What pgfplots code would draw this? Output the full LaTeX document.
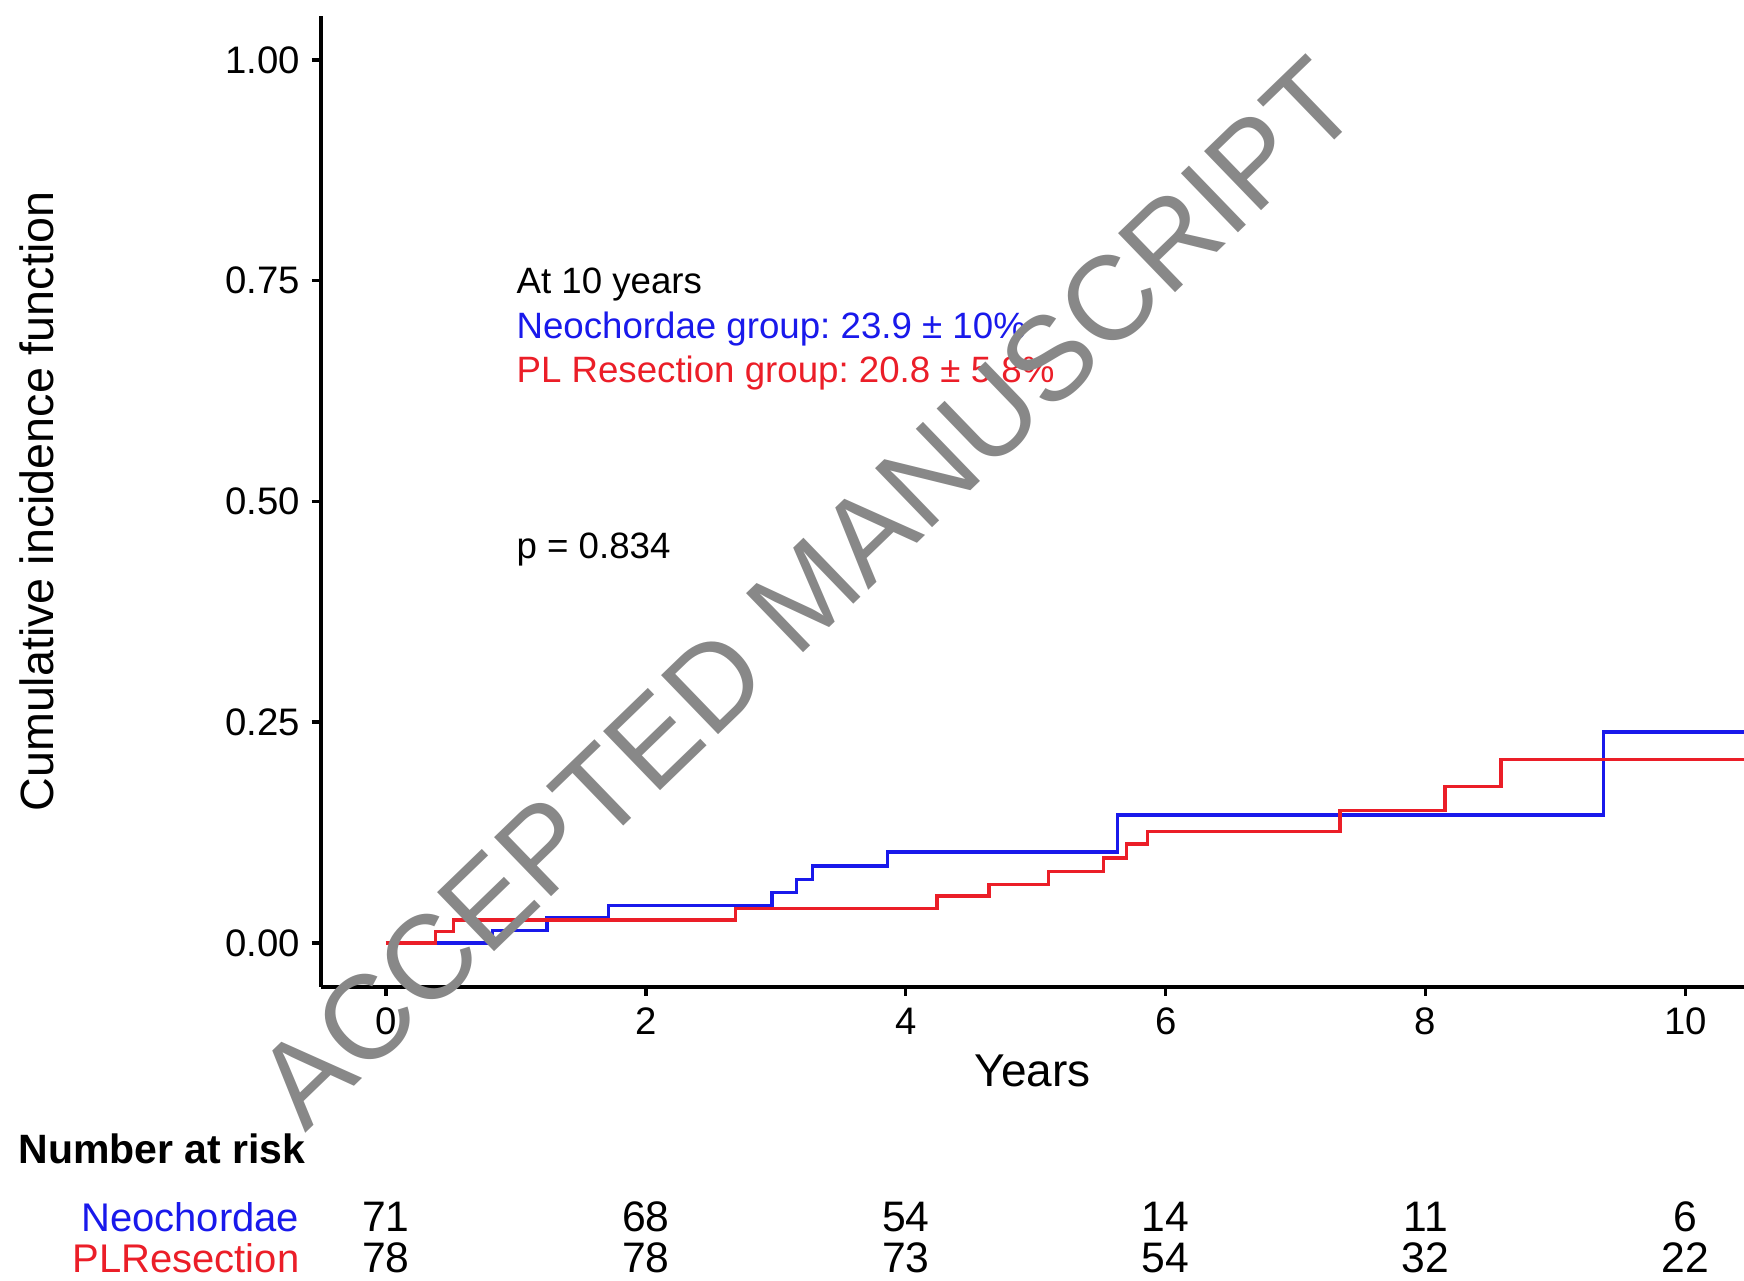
\documentclass[border=0pt]{standalone}
\usepackage{fontspec}
\setmainfont{Liberation Sans}
\usepackage{pgfplots}
\pgfplotsset{compat=1.18}
\frenchspacing
\definecolor{kmblue}{RGB}{25,25,235}
\definecolor{kmred}{RGB}{235,30,40}
\definecolor{wmgray}{RGB}{136,136,136}

\pgfplotstableread{
x y
0 0
0.82 0.014
1.24 0.028
1.71 0.042
2.97 0.057
3.16 0.072
3.28 0.087
3.86 0.103
5.63 0.145
9.37 0.239
10.45 0.239
}\neochordae

\pgfplotstableread{
x y
0 0
0.38 0.013
0.52 0.026
2.69 0.039
4.24 0.053
4.64 0.066
5.10 0.081
5.52 0.096
5.70 0.112
5.86 0.126
7.34 0.150
8.15 0.177
8.58 0.208
10.45 0.208
}\plresection

\pgfplotstableread{
x y n
0 1232 71
2 1232 68
4 1232 54
6 1232 14
8 1232 11
10 1232 6
}\riskneo

\pgfplotstableread{
x y n
0 1273 78
2 1273 78
4 1273 73
6 1273 54
8 1273 32
10 1273 22
}\riskpl

\begin{document}
\frenchspacing
\begin{tikzpicture}
\path[use as bounding box] (0,0) rectangle (523.2pt,384.3pt);
\begin{axis}[
  at={(96.3pt,88.2pt)}, anchor=south west,
  scale only axis, width=426.9pt, height=291.3pt,
  xmin=-0.5, xmax=10.45, ymin=-0.05, ymax=1.05,
  axis x line*=bottom, axis y line*=left,
  axis line style={line width=1pt, black, -},
  every outer x axis line/.append style={-},
  every outer y axis line/.append style={-},
  xtick={0,2,4,6,8,10}, ytick={0,0.25,0.5,0.75,1},
  tick align=outside, major tick length=2.7pt,
  tick style={line width=1pt, black},
  /pgf/number format/assume math mode=true,
  tick label style={font=\fontsize{11.5}{13}\selectfont},
  yticklabel style={/pgf/number format/fixed, /pgf/number format/fixed zerofill, /pgf/number format/precision=2},
  xlabel={Years}, ylabel={Cumulative incidence function},
  xlabel style={font=\fontsize{13.8}{16}\selectfont, at={(axis description cs:0.5,-0.0865)}, anchor=center},
  ylabel style={font=\fontsize{14}{16}\selectfont, at={(axis description cs:-0.1996,0.5)}, anchor=center},
  clip mode=individual,
]
\addplot[const plot, kmblue, line width=1pt] table {\neochordae};
\addplot[const plot, kmred, line width=1pt] table {\plresection};
\node[anchor=west, inner sep=0, text height=7.9pt, text depth=0pt, font=\fontsize{11}{13}\selectfont] at (axis cs:1,0.75) {At 10 years};
\node[anchor=west, inner sep=0, text height=7.9pt, text depth=0pt, font=\fontsize{11}{13}\selectfont, text=kmblue] at (axis cs:1,0.70) {Neochordae group: 23.9 ± 10\%};
\node[anchor=west, inner sep=0, text height=7.9pt, text depth=0pt, font=\fontsize{11}{13}\selectfont, text=kmred] at (axis cs:1,0.65) {PL Resection group: 20.8 ± 5.8\%};
\node[anchor=west, inner sep=0, text height=7.9pt, text depth=0pt, font=\fontsize{11}{13}\selectfont] at (axis cs:1,0.45) {p = 0.834};
\end{axis}

\begin{axis}[
  at={(96.3pt,0pt)}, anchor=south west,
  scale only axis, width=426.9pt, height=54.3pt,
  xmin=-0.5, xmax=10.45, ymin=1100, ymax=1281, y dir=reverse,
  hide axis, clip=false,
]
\addplot[draw=none, mark=none, nodes near coords, point meta=explicit symbolic,
  every node near coord/.append style={anchor=base, inner sep=0, font=\fontsize{12.8}{14}\selectfont, text=black}]
  table[meta=n] {\riskneo};
\addplot[draw=none, mark=none, nodes near coords, point meta=explicit symbolic,
  every node near coord/.append style={anchor=base, inner sep=0, font=\fontsize{12.8}{14}\selectfont, text=black}]
  table[meta=n] {\riskpl};
\node[anchor=base west, inner sep=0, font=\bfseries\fontsize{12.3}{14}\selectfont] at (axis cs:-2.833,1164) {Number at risk};
\node[anchor=base east, inner sep=0, font=\fontsize{12}{14}\selectfont, text=kmblue] at (axis cs:-0.662,1232) {Neochordae};
\node[anchor=base east, inner sep=0, font=\fontsize{12}{14}\selectfont, text=kmred] at (axis cs:-0.662,1273) {PLResection};
\end{axis}

\node[rotate=44, text=wmgray, inner sep=0, font=\fontsize{35.8}{40}\selectfont] at (242pt,206.5pt) {ACCEPTED MANUSCRIPT};
\end{tikzpicture}
\end{document}
